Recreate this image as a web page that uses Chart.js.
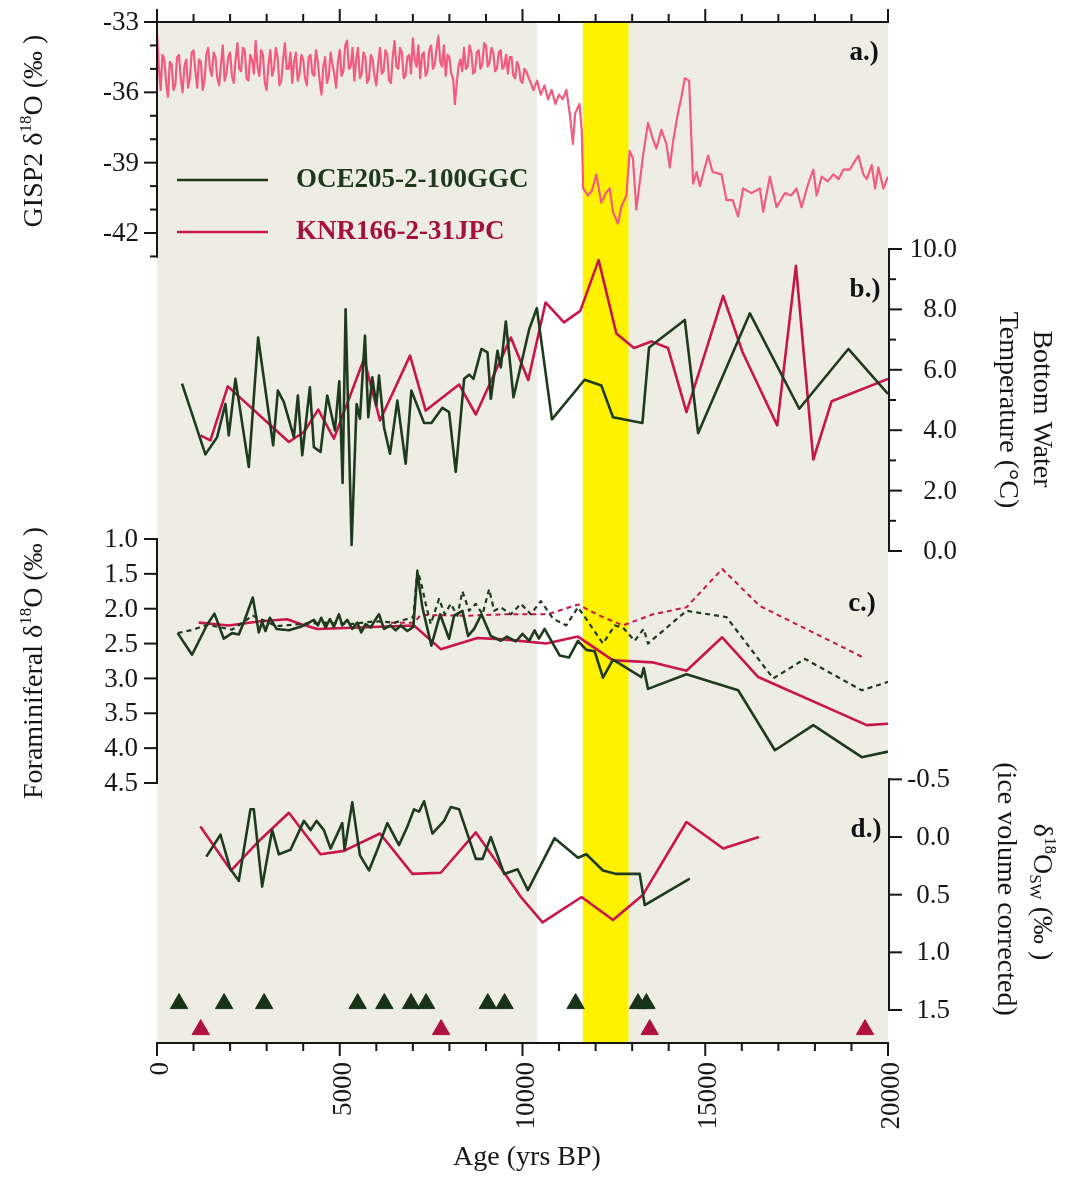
<!DOCTYPE html>
<html>
<head>
<meta charset="utf-8">
<title>GISP2 and Florida Straits benthic records</title>
<script src="https://cdn.jsdelivr.net/npm/chart.js@4.4.1/dist/chart.umd.min.js"></script>
<style>
  html, body { margin: 0; padding: 0; background: #fff; }
  #wrap { width: 1068px; height: 1199px; position: relative; }
</style>
</head>
<body>
<div id="wrap"><canvas id="stackChart"></canvas></div>
<script>
// ---- data ----

// panel a: GISP2 ice core d18O
const gispAge = [
    0, 50, 100, 150, 200, 250, 300, 350, 400, 450,
    500, 550, 600, 650, 700, 750, 800, 850, 900, 950,
    1000, 1050, 1100, 1150, 1200, 1250, 1300, 1350, 1400, 1450,
    1500, 1550, 1600, 1650, 1700, 1750, 1800, 1850, 1900, 1950,
    2000, 2050, 2100, 2150, 2200, 2250, 2300, 2350, 2400, 2450,
    2500, 2550, 2600, 2650, 2700, 2750, 2800, 2850, 2900, 2950,
    3000, 3050, 3100, 3150, 3200, 3250, 3300, 3350, 3400, 3450,
    3500, 3550, 3600, 3650, 3700, 3750, 3800, 3850, 3900, 3950,
    4000, 4050, 4100, 4150, 4200, 4250, 4300, 4350, 4400, 4450,
    4500, 4550, 4600, 4650, 4700, 4750, 4800, 4850, 4900, 4950,
    5000, 5050, 5100, 5150, 5200, 5250, 5300, 5350, 5400, 5450,
    5500, 5550, 5600, 5650, 5700, 5750, 5800, 5850, 5900, 5950,
    6000, 6050, 6100, 6150, 6200, 6250, 6300, 6350, 6400, 6450,
    6500, 6550, 6600, 6650, 6700, 6750, 6800, 6850, 6900, 6950,
    7000, 7050, 7100, 7150, 7200, 7250, 7300, 7350, 7400, 7450,
    7500, 7550, 7600, 7650, 7700, 7750, 7800, 7850, 7900, 7950,
    8000, 8050, 8100, 8150, 8200, 8250, 8300, 8350, 8400, 8450,
    8500, 8550, 8600, 8650, 8700, 8750, 8800, 8850, 8900, 8950,
    9000, 9050, 9100, 9150, 9200, 9250, 9300, 9350, 9400, 9450,
    9500, 9550, 9600, 9650, 9700, 9750, 9800, 9850, 9900, 9950,
    10000, 10050, 10100, 10200, 10300, 10400, 10500, 10600, 10700, 10800,
    10900, 11000, 11100, 11200, 11300, 11380, 11440, 11560, 11620, 11660,
    11790, 11900, 12020, 12157, 12280, 12385, 12476, 12613, 12700, 12842,
    12933, 13020, 13115, 13298, 13434, 13550, 13663, 13800, 13937, 14029,
    14120, 14250, 14349, 14440, 14559, 14668, 14760, 14851, 15079, 15200,
    15445, 15582, 15750, 15900, 16037, 16266, 16494, 16586, 16768, 16951,
    17180, 17350, 17498, 17635, 17818, 17956, 18048, 18185, 18350, 18505,
    18650, 18778, 18950, 19189, 19326, 19420, 19555, 19646, 19737, 19875,
    20000
];
const gispD18O = [
    -33.5, -34.9, -35.9, -34.4, -34.6, -35.6, -36.2, -34.7, -34.8, -35.9,
    -35.7, -34.5, -34.4, -35.4, -36.0, -34.9, -34.6, -35.8, -35.4, -34.3,
    -34.2, -35.1, -35.8, -34.6, -34.7, -35.9, -35.5, -34.4, -34.1, -35.0,
    -35.3, -34.3, -34.5, -35.4, -35.7, -34.8, -34.0, -35.5, -35.2, -34.5,
    -34.3, -35.3, -35.6, -34.6, -33.9, -35.0, -35.1, -34.1, -34.2, -35.4,
    -35.5, -34.4, -34.6, -35.2, -33.8, -34.9, -35.3, -34.2, -34.4, -35.6,
    -35.9, -34.8, -34.2, -35.3, -35.0, -34.1, -34.5, -35.7, -35.5, -34.6,
    -33.9, -35.0, -35.0, -34.3, -35.6, -34.7, -34.3, -35.5, -35.2, -34.4,
    -34.6, -35.4, -35.7, -34.5, -34.4, -35.2, -35.3, -34.2, -34.7, -35.5,
    -36.1, -34.9, -34.5, -35.6, -35.3, -34.3, -34.8, -35.2, -35.8, -34.7,
    -34.2, -35.3, -35.1, -34.0, -33.8, -35.0, -34.9, -34.1, -35.5, -34.6,
    -34.1, -35.4, -35.2, -34.3, -34.5, -35.6, -35.4, -34.4, -34.6, -35.3,
    -35.7, -34.8, -34.1, -35.2, -35.1, -34.2, -34.4, -35.5, -35.6, -34.5,
    -33.8, -34.9, -35.0, -34.1, -34.3, -35.4, -35.3, -34.5, -34.4, -35.2,
    -33.7, -34.6, -34.9, -34.0, -35.4, -34.4, -34.3, -35.3, -35.1, -34.2,
    -34.0, -35.0, -34.8, -34.1, -33.6, -34.7, -34.9, -34.0, -35.3, -34.4,
    -34.5, -35.2, -35.4, -36.5, -35.6, -34.9, -34.6, -35.1, -34.1, -35.0,
    -34.9, -34.0, -34.3, -35.2, -35.1, -34.3, -34.2, -35.0, -34.8, -33.9,
    -34.0, -34.9, -34.7, -34.1, -34.3, -35.1, -35.0, -34.3, -34.2, -35.0,
    -34.9, -34.4, -35.2, -34.5, -34.5, -35.3, -35.4, -34.7, -34.9, -35.5,
    -35.6, -35.0, -35.1, -35.5, -35.9, -35.5, -36.1, -35.7, -36.3, -35.9,
    -36.5, -36.1, -36.3, -35.9, -37.0, -38.2, -36.9, -36.5, -37.6, -40.1,
    -40.4, -40.2, -39.5, -40.7, -40.3, -40.1, -41.1, -41.6, -40.9, -40.4,
    -38.5, -38.8, -41.0, -38.7, -37.3, -37.9, -38.4, -37.6, -38.2, -39.2,
    -38.1, -36.9, -36.2, -35.4, -35.5, -39.9, -39.4, -40.0, -38.7, -39.4,
    -39.5, -40.6, -40.6, -41.3, -40.1, -40.3, -40.1, -41.1, -39.6, -40.9,
    -40.3, -40.4, -40.1, -40.9, -39.9, -39.3, -40.4, -39.6, -39.8, -39.5,
    -39.7, -39.3, -39.3, -38.7, -39.5, -39.7, -39.1, -40.1, -39.2, -40.1,
    -39.6
];

// panel b: bottom water temperature (deg C)
const tempGreenAge = [685, 1324, 1644, 1872, 1964, 2146, 2512, 2767, 3178, 3307,
    3471, 3745, 3855, 3973, 4183, 4292, 4474, 4658, 4868, 4987,
    5078, 5160, 5325, 5461, 5553, 5690, 5781, 5891, 6001, 6074,
    6211, 6375, 6576, 6804, 6960, 7307, 7508, 7809, 7992, 8174,
    8403, 8540, 8658, 8878, 9042, 9133, 9316, 9407, 9544, 9754,
    10185, 10392, 10805, 11700, 12157, 12476, 13281, 13462, 14440, 14805,
    16221, 17572, 18915, 20000];
const tempGreen = [5.54, 3.2, 3.77, 4.87, 3.83, 5.7, 2.78, 7.07, 3.5, 5.31,
    4.93, 3.77, 5.15, 3.17, 5.42, 3.44, 3.28, 5.15, 3.99, 5.62,
    2.25, 8.0, 0.2, 4.87, 4.38, 7.13, 4.43, 5.75, 4.82, 5.81,
    4.1, 3.22, 4.98, 2.89, 5.31, 4.24, 4.24, 4.74, 4.6, 2.62,
    5.7, 5.84, 5.7, 6.69, 6.58, 5.04, 6.63, 6.08, 7.6, 5.09,
    7.35, 8.04, 4.36, 5.67, 5.48, 4.43, 4.24, 6.74, 7.65, 3.9,
    7.87, 4.71, 6.69, 5.2];
const tempRedAge = [1187, 1461, 1937, 3608, 4019, 4411, 4841, 5663, 6101, 6923,
    7352, 8266, 8723, 9681, 10157, 10631, 11133, 11581, 12083, 12568,
    13050, 13527, 13982, 14486, 15490, 16021, 16969, 17481, 17956, 18459,
    20000];
const tempRed = [3.83, 3.66, 5.45, 3.61, 3.94, 4.68, 3.72, 6.36, 4.32, 6.47,
    4.65, 5.51, 4.52, 7.07, 5.66, 8.23, 7.57, 7.95, 9.63, 7.2,
    6.72, 6.94, 6.72, 4.6, 8.45, 6.58, 4.16, 9.44, 3.03, 4.96,
    5.7];

// panel c: foraminiferal d18O (solid and dashed curves)
const foramGreenAge = [566, 959, 1370, 1571, 1827, 2055, 2238, 2393, 2621, 2786,
    2877, 2968, 3087, 3270, 3608, 3927, 4155, 4292, 4402, 4493,
    4612, 4731, 4840, 4977, 5069, 5206, 5343, 5480, 5589, 5708,
    5845, 5982, 6073, 6210, 6393, 6530, 6667, 6850, 7014, 7124,
    7261, 7507, 7745, 7991, 8128, 8357, 8512, 8676, 8877, 9133,
    9407, 9571, 9818, 10000, 10183, 10330, 10450, 10604, 11015, 11270,
    11517, 11746, 11974, 12201, 12476, 13252, 13316, 13434, 14486, 15900,
    16906, 17956, 19281, 20000];
const foramGreen = [2.35, 2.66, 2.23, 2.07, 2.43, 2.35, 2.37, 2.17, 1.84, 2.34,
    2.19, 2.32, 2.13, 2.29, 2.31, 2.26, 2.2, 2.16, 2.24, 2.13,
    2.27, 2.15, 2.26, 2.08, 2.24, 2.16, 2.29, 2.2, 2.34, 2.22,
    2.27, 2.15, 2.08, 2.29, 2.24, 2.31, 2.24, 2.32, 2.26, 1.48,
    1.98, 2.53, 2.08, 2.43, 2.1, 2.03, 2.39, 2.29, 2.08, 2.39,
    2.46, 2.4, 2.47, 2.36, 2.46, 2.31, 2.43, 2.29, 2.67, 2.7,
    2.46, 2.59, 2.61, 2.99, 2.73, 2.98, 2.85, 3.15, 2.94, 3.17,
    4.03, 3.67, 4.13, 4.05];
const foramGreenDashAge = [566, 1000, 1370, 2055, 2621, 3270, 3927, 4600, 5300, 5982,
    6500, 7014, 7124, 7215, 7352, 7489, 7717, 7873, 8037, 8220,
    8357, 8539, 8722, 8905, 9087, 9224, 9407, 9681, 9955, 10229,
    10503, 10832, 11197, 11517, 11746, 12201, 12522, 12750, 13069, 13316,
    13434, 14486, 15582, 16859, 17728, 19281, 20000];
const foramGreenDash = [2.35, 2.3, 2.23, 2.3, 2.1, 2.25, 2.22, 2.2, 2.22, 2.18,
    2.2, 2.12, 1.45, 1.6, 1.93, 2.22, 1.86, 2.08, 1.93, 2.1,
    1.75, 2.03, 1.93, 2.08, 1.72, 2.03, 1.98, 2.08, 1.93, 2.08,
    1.89, 2.14, 2.24, 1.98, 2.15, 2.5, 2.24, 2.27, 2.46, 2.29,
    2.5, 2.03, 2.12, 3.0, 2.72, 3.17, 3.05];
const foramRedAge = [1142, 1964, 2831, 3562, 3927, 4384, 7033, 7763, 8768, 9500,
    10650, 11517, 12476, 13571, 14486, 15463, 16449, 19418, 20000];
const foramRed = [2.2, 2.24, 2.18, 2.15, 2.22, 2.29, 2.24, 2.58, 2.42, 2.44,
    2.5, 2.4, 2.74, 2.77, 2.89, 2.41, 2.98, 3.67, 3.65];
const foramRedDashAge = [6400, 7033, 7215, 8500, 9500, 10686, 11517, 12111, 12750, 13571,
    14486, 15463, 16494, 19324];
const foramRedDash = [2.2, 2.2, 2.09, 2.1, 2.08, 2.08, 1.94, 2.1, 2.24, 2.08,
    1.98, 1.43, 1.96, 2.7];

// panel d: d18O seawater, ice volume corrected
const swGreenAge = [1351, 1735, 2009, 2238, 2557, 2649, 2877, 3151, 3334, 3653,
    4019, 4201, 4365, 4567, 4749, 5069, 5132, 5343, 5553, 5800,
    6028, 6302, 6622, 6850, 7033, 7170, 7307, 7535, 7855, 8037,
    8266, 8723, 8905, 9133, 9499, 9864, 10147, 10878, 11517, 11746,
    12201, 12567, 13207, 13344, 14577];
const swGreen = [0.17, -0.02, 0.28, 0.38, -0.24, -0.24, 0.43, -0.06, 0.15, 0.11,
    -0.14, -0.06, -0.14, -0.06, 0.1, -0.12, 0.11, -0.3, 0.16, 0.29,
    0.11, -0.12, 0.07, -0.09, -0.24, -0.22, -0.31, -0.03, -0.14, -0.26,
    -0.24, 0.19, 0.19, 0.0, 0.32, 0.28, 0.46, 0.01, 0.18, 0.15,
    0.29, 0.32, 0.32, 0.59, 0.36];
const swRedAge = [1187, 2028, 2740, 3608, 4474, 5114, 6101, 6987, 7763, 8723,
    9499, 9955, 10549, 11617, 12476, 13298, 14486, 15490, 16468];
const swRed = [-0.09, 0.29, 0.05, -0.21, 0.15, 0.12, -0.03, 0.32, 0.31, -0.04,
    0.31, 0.52, 0.74, 0.52, 0.72, 0.5, -0.13, 0.1, 0.0];

// radiocarbon date markers (row 1 = OCE205, row 2 = KNR166)
const datesGreen = [603, 1836, 2932, 5489, 6220, 6951, 7362, 9050, 9508, 11453, 13160, 13390];
const datesRed = [1197, 7773, 13481, 19372];

// shaded intervals (yrs BP)
const whiteBand = [10400, 11650];
const youngerDryas = [11650, 12900];

// tick labels
const ageTicks = [0, 5000, 10000, 15000, 20000];
const gispTicks = [-33, -36, -39, -42];
const gispMinor = [-34, -35, -37, -38, -40, -41, -43];
const tempTicks = [0, 2, 4, 6, 8, 10];
const tempMinor = [1, 3, 5, 7, 9];
const foramTicks = [1.0, 1.5, 2.0, 2.5, 3.0, 3.5, 4.0, 4.5];
const swTicks = [-0.5, 0.0, 0.5, 1.0, 1.5];

// ---- layout and style ----
const FONT = "'Liberation Serif', 'Times New Roman', serif";
const INK = '#161616';
const GREEN = '#1e3b1e';
const RED = '#c8154a';
const PINK = '#f25b80';
const PAPER = '#eeede4';
const YELLOW = '#fff200';
const AREA = { left: 157, right: 888, top: 22, bottom: 1043 };

// find scale min/max so that two values land on given pixel rows
function fitScale(v1, p1, v2, p2) {
    const k = (v2 - v1) / (p2 - p1);
    const top = v1 + (AREA.top - p1) * k;
    const bottom = v1 + (AREA.bottom - p1) * k;
    return {
        type: 'linear', display: false,
        min: Math.min(top, bottom), max: Math.max(top, bottom),
        reverse: top < bottom
    };
}

const pts = (xs, ys) => xs.map((x, i) => ({ x: x, y: ys[i] }));

function lineSet(label, xs, ys, axis, color, width, dash) {
    return {
        label: label,
        data: pts(xs, ys),
        yAxisID: axis,
        borderColor: color,
        borderWidth: width,
        borderDash: dash || [],
        borderJoinStyle: 'round',
        pointRadius: 0,
        tension: 0,
        fill: false
    };
}

function markerSet(label, ages, row, color) {
    return {
        label: label,
        data: ages.map(a => ({ x: a, y: row })),
        yAxisID: 'ym',
        showLine: false,
        pointStyle: 'triangle',
        pointRadius: 10,
        pointBackgroundColor: color,
        pointBorderColor: color,
        pointBorderWidth: 1
    };
}

function seg(ctx, x1, y1, x2, y2) {
    ctx.beginPath();
    ctx.moveTo(x1, y1);
    ctx.lineTo(x2, y2);
    ctx.stroke();
}

// text with super/subscript pieces, centred on (x, y), optionally rotated
function richText(ctx, parts, x, y, rot, size) {
    ctx.save();
    ctx.translate(x, y);
    ctx.rotate(rot);
    ctx.textAlign = 'left';
    ctx.textBaseline = 'middle';
    const fontOf = p => ((p.sup || p.sub) ? Math.round(size * 0.62) : size) + 'px ' + FONT;
    const widths = parts.map(p => { ctx.font = fontOf(p); return ctx.measureText(p.t).width; });
    let cx = -widths.reduce((s, w) => s + w, 0) / 2;
    parts.forEach((p, i) => {
        ctx.font = fontOf(p);
        const dy = p.sup ? -size * 0.3 : (p.sub ? size * 0.25 : 0);
        ctx.fillText(p.t, cx, dy);
        cx += widths[i];
    });
    ctx.restore();
}

const paperPlugin = {
    id: 'paper',
    beforeDatasetsDraw(chart) {
        const { ctx, chartArea: a } = chart;
        const xs = chart.scales.x;
        const h = a.bottom - a.top;
        ctx.save();
        ctx.fillStyle = PAPER;
        ctx.fillRect(a.left, a.top, a.right - a.left, h);
        ctx.fillStyle = '#ffffff';
        ctx.fillRect(xs.getPixelForValue(whiteBand[0]), a.top,
            xs.getPixelForValue(whiteBand[1]) - xs.getPixelForValue(whiteBand[0]), h);
        ctx.fillStyle = YELLOW;
        ctx.fillRect(xs.getPixelForValue(youngerDryas[0]), a.top,
            xs.getPixelForValue(youngerDryas[1]) - xs.getPixelForValue(youngerDryas[0]), h);
        ctx.restore();
    }
};

const axesPlugin = {
    id: 'figureAxes',
    afterDraw(chart) {
        const { ctx, chartArea: a, scales } = chart;
        const xs = scales.x;
        ctx.save();
        ctx.strokeStyle = INK;
        ctx.fillStyle = INK;
        ctx.lineWidth = 2;
        ctx.lineCap = 'square';

        // age axis at the bottom, mirrored ticks on top
        const xl = xs.getPixelForValue(ageTicks[0]);
        const xr = xs.getPixelForValue(ageTicks[ageTicks.length - 1]);
        [[a.bottom, 1], [a.top, -1]].forEach(([y, dir]) => {
            seg(ctx, xl, y, xr, y);
            for (let v = 0; v <= 20000; v += 1000) {
                const px = xs.getPixelForValue(v);
                seg(ctx, px, y, px, y + dir * (ageTicks.includes(v) ? 12 : 7));
            }
        });
        ctx.font = '27px ' + FONT;
        ageTicks.forEach(v => {
            ctx.save();
            ctx.translate(xs.getPixelForValue(v) + 4, a.bottom + 19);
            ctx.rotate(-Math.PI / 2);
            ctx.textAlign = 'right';
            ctx.textBaseline = 'middle';
            ctx.fillText(String(v), 0, 0);
            ctx.restore();
        });

        // the four stacked value axes
        const vAxes = [
            { id: 'ya', x: a.left, dir: -1, ticks: gispTicks, minor: gispMinor, range: [-33, -43], fmt: v => String(v), edge: 139 },
            { id: 'yb', x: a.right + 1, dir: 1, ticks: tempTicks, minor: tempMinor, range: [0, 10], fmt: v => v.toFixed(1), edge: 957 },
            { id: 'yc', x: a.left, dir: -1, ticks: foramTicks, minor: [], range: [1.0, 4.5], fmt: v => v.toFixed(1), edge: 138 },
            { id: 'yd', x: a.right + 1, dir: 1, ticks: swTicks, minor: [], range: [-0.5, 1.5], fmt: v => v.toFixed(1), edge: 950 }
        ];
        vAxes.forEach(ax => {
            const sc = scales[ax.id];
            seg(ctx, ax.x, sc.getPixelForValue(ax.range[0]), ax.x, sc.getPixelForValue(ax.range[1]));
            ax.minor.forEach(v => {
                const py = sc.getPixelForValue(v);
                seg(ctx, ax.x, py, ax.x + ax.dir * 6, py);
            });
            ctx.font = '27px ' + FONT;
            ctx.textAlign = 'right';
            ctx.textBaseline = 'middle';
            ax.ticks.forEach(v => {
                const py = sc.getPixelForValue(v);
                seg(ctx, ax.x, py, ax.x + ax.dir * 12, py);
                ctx.fillText(ax.fmt(v), ax.edge, py + 1);
            });
        });

        // axis titles
        const up = -Math.PI / 2, down = Math.PI / 2;
        richText(ctx, [{ t: 'GISP2 δ' }, { t: '18', sup: true }, { t: 'O (‰ )' }], 35, 131, up, 28);
        richText(ctx, [{ t: 'Foraminiferal δ' }, { t: '18', sup: true }, { t: 'O (‰ )' }], 35, 663, up, 28);
        richText(ctx, [{ t: 'Bottom Water' }], 1041, 409, down, 28);
        richText(ctx, [{ t: 'Temperature (°C)' }], 1007, 410, down, 28);
        richText(ctx, [{ t: 'δ' }, { t: '18', sup: true }, { t: 'O' }, { t: 'SW', sub: true }, { t: ' (‰ )' }], 1041, 892, down, 28);
        richText(ctx, [{ t: '(ice volume corrected)' }], 1005, 889, down, 28);
        richText(ctx, [{ t: 'Age (yrs BP)' }], 527, 1158, 0, 28);

        // panel letters
        ctx.font = 'bold 27px ' + FONT;
        ctx.textAlign = 'center';
        ctx.textBaseline = 'middle';
        ctx.fillStyle = '#111';
        ctx.fillText('a.)', 864, 53);
        ctx.fillText('b.)', 865, 290);
        ctx.fillText('c.)', 862, 604);
        ctx.fillText('d.)', 866, 830);

        // legend
        ctx.lineCap = 'butt';
        ctx.lineWidth = 2.5;
        ctx.textAlign = 'left';
        ctx.strokeStyle = GREEN;
        seg(ctx, 177, 180, 268, 180);
        ctx.fillStyle = '#1d381d';
        ctx.fillText('OCE205-2-100GGC', 296, 180);
        ctx.strokeStyle = RED;
        seg(ctx, 177, 232, 268, 232);
        ctx.fillStyle = '#a5103e';
        ctx.fillText('KNR166-2-31JPC', 296, 232);
        ctx.restore();
    }
};

const chartCtx = document.getElementById('stackChart').getContext('2d');
const stackChart = new Chart(chartCtx, {
    type: 'line',
    data: {
        datasets: [
            markerSet('OCE205 dates', datesGreen, 1, '#183318'),
            markerSet('KNR166 dates', datesRed, 2, '#b0103f'),
            lineSet('GISP2', gispAge, gispD18O, 'ya', PINK, 2.2),
            lineSet('OCE205 BWT', tempGreenAge, tempGreen, 'yb', GREEN, 2.6),
            lineSet('KNR166 BWT', tempRedAge, tempRed, 'yb', RED, 2.6),
            lineSet('OCE205 d18O', foramGreenAge, foramGreen, 'yc', GREEN, 2.6),
            lineSet('OCE205 d18O alt', foramGreenDashAge, foramGreenDash, 'yc', GREEN, 2.2, [5, 4]),
            lineSet('KNR166 d18O', foramRedAge, foramRed, 'yc', RED, 2.6),
            lineSet('KNR166 d18O alt', foramRedDashAge, foramRedDash, 'yc', RED, 2, [5, 4]),
            lineSet('OCE205 d18Osw', swGreenAge, swGreen, 'yd', GREEN, 2.6),
            lineSet('KNR166 d18Osw', swRedAge, swRed, 'yd', RED, 2.6)
        ]
    },
    options: {
        responsive: true,
        maintainAspectRatio: false,
        animation: false,
        layout: {
            padding: { left: AREA.left, right: 1068 - AREA.right, top: AREA.top, bottom: 1199 - AREA.bottom }
        },
        plugins: {
            legend: { display: false },
            tooltip: { enabled: false }
        },
        scales: {
            x: { type: 'linear', display: false, min: 0, max: 20000 },
            ya: fitScale(-33, 22, -42, 233),
            yb: fitScale(10, 249, 0, 551),
            yc: fitScale(1.0, 539, 4.5, 783),
            yd: fitScale(0.0, 837, 1.5, 1010),
            ym: fitScale(1, 1003.6, 2, 1029.6)
        }
    },
    plugins: [paperPlugin, axesPlugin]
});
</script>
</body>
</html>
